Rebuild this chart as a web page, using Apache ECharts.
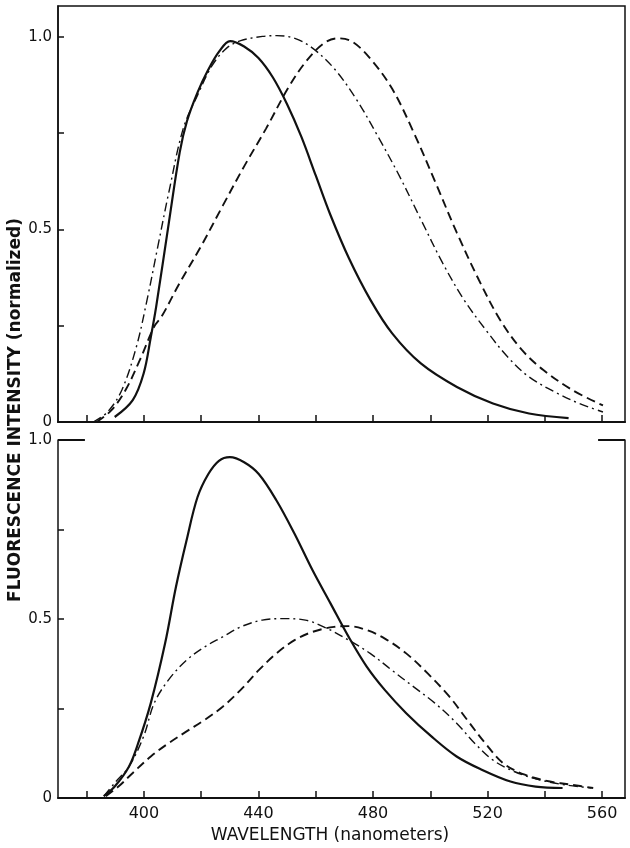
<!DOCTYPE html>
<html>
<head>
<meta charset="utf-8">
<script src="https://cdn.jsdelivr.net/npm/echarts@6/dist/echarts.min.js"></script>
<style>
html,body{margin:0;padding:0;background:#fff;}
#chart{width:630px;height:848px;}
</style>
</head>
<body>
<div id="chart"></div>
<script>
// Tick / label values
const wavelengthTicks = [380, 400, 420, 440, 460, 480, 500, 520, 540, 560];
const wavelengthLabels = [400, 440, 480, 520, 560];
const intensityTicks = [0.25, 0.5, 0.75, 1.0];
const intensityLabels = [0, 0.5, 1.0];

// Upper panel: [wavelength nm, normalized intensity]
const topSolid = [[389.8,0.013],[396.1,0.057],[399.9,0.126],[402.4,0.22],[404.3,0.30],[408.7,0.517],[412.5,0.70],[415.0,0.78],[418.7,0.855],[422.5,0.915],[426.3,0.962],[430.1,0.989],[435.0,0.975],[440.0,0.945],[445.0,0.895],[450.0,0.825],[455.0,0.74],[460.0,0.64],[465.0,0.54],[471.6,0.425],[479.1,0.317],[486.7,0.23],[496.7,0.152],[509.3,0.091],[521.9,0.048],[534.5,0.022],[548.3,0.010]];
const topDashDot = [[382.3,0.0],[387.3,0.026],[392.3,0.083],[397.4,0.196],[401.1,0.317],[404.9,0.457],[408.7,0.596],[413.7,0.761],[418.7,0.848],[423.8,0.925],[428.8,0.97],[433.8,0.99],[441.4,1.001],[446.4,1.003],[452.7,0.996],[459.0,0.97],[466.5,0.917],[474.1,0.839],[481.6,0.743],[489.2,0.639],[496.7,0.526],[504.3,0.413],[511.8,0.317],[519.4,0.239],[526.9,0.17],[534.5,0.117],[544.5,0.074],[552.1,0.048],[560.3,0.026]];
const topDashed = [[383.5,0.0],[388.6,0.03],[393.6,0.083],[398.6,0.161],[403.6,0.248],[406.2,0.274],[412.5,0.361],[420.0,0.457],[427.5,0.561],[435.1,0.665],[442.6,0.761],[450.2,0.865],[456.5,0.935],[462.8,0.983],[467.8,0.996],[472.8,0.987],[479.1,0.943],[486.7,0.865],[494.2,0.752],[501.8,0.622],[509.3,0.491],[516.9,0.37],[524.4,0.265],[532.0,0.187],[539.5,0.135],[549.6,0.083],[560.3,0.043]];

// Lower panel
const botSolid = [[386.0,0.005],[389.8,0.032],[394.8,0.088],[398.0,0.153],[402.4,0.265],[407.4,0.432],[411.2,0.59],[414.9,0.72],[418.7,0.84],[422.5,0.905],[426.2,0.942],[430.0,0.952],[435.0,0.938],[440.1,0.905],[446.3,0.831],[452.6,0.738],[458.9,0.636],[465.2,0.543],[471.5,0.45],[477.8,0.367],[484.1,0.302],[491.6,0.237],[500.4,0.172],[509.2,0.116],[518.0,0.079],[528.0,0.046],[536.8,0.032],[546.2,0.028]];
const botDashDot = [[386.0,0.005],[389.8,0.042],[394.8,0.088],[399.9,0.172],[403.6,0.265],[408.6,0.33],[414.9,0.385],[421.2,0.422],[427.5,0.45],[433.8,0.478],[441.3,0.497],[448.9,0.501],[456.4,0.497],[463.9,0.474],[471.5,0.441],[479.0,0.404],[486.6,0.357],[494.1,0.311],[501.6,0.265],[509.2,0.209],[515.5,0.153],[521.7,0.107],[529.3,0.074],[538.1,0.051],[546.9,0.037],[556.3,0.028]];
const botDashed = [[386.7,0.005],[391.1,0.032],[396.1,0.07],[402.4,0.116],[408.6,0.153],[414.9,0.186],[421.2,0.218],[427.5,0.255],[433.8,0.302],[440.1,0.357],[446.3,0.404],[452.6,0.441],[458.9,0.464],[466.4,0.478],[471.5,0.48],[477.8,0.469],[484.0,0.446],[491.6,0.404],[499.1,0.348],[506.7,0.283],[512.9,0.218],[519.2,0.153],[525.5,0.097],[533.0,0.065],[541.8,0.046],[549.4,0.037],[556.9,0.028]];

const X_MIN = 370, X_MAX = 568;
const FONT = '"DejaVu Sans", "Liberation Sans", sans-serif';
const INK = '#111';

function xAxisCfg(grid, showLabels) {
  return {
    type: 'value', gridIndex: grid, min: X_MIN, max: X_MAX,
    axisLine: { show: true, onZero: false, lineStyle: { color: INK, width: 2 } },
    axisTick: { show: true, inside: true, length: 7, customValues: wavelengthTicks, lineStyle: { color: INK, width: 1.5 } },
    axisLabel: showLabels ? { show: true, customValues: wavelengthLabels, color: INK, fontFamily: FONT, fontSize: 16, margin: 8 } : { show: false },
    splitLine: { show: false }
  };
}
function yAxisCfg(grid, max) {
  return {
    type: 'value', gridIndex: grid, min: 0, max: max,
    axisLine: { show: true, onZero: false, lineStyle: { color: INK, width: 1.5 } },
    axisTick: { show: true, inside: true, length: 6, customValues: intensityTicks, lineStyle: { color: INK, width: 1.5 } },
    axisLabel: { show: true, customValues: intensityLabels, color: INK, fontFamily: FONT, fontSize: 15, margin: 6,
      formatter: v => v === 0 ? '0' : v.toFixed(1) },
    splitLine: { show: false }
  };
}
function line(data, style, xi, yi, width) {
  const ls = { color: INK, width: width };
  if (style === 'dashed') ls.type = [9, 5];
  if (style === 'dashdot') ls.type = [9, 4, 2, 4];
  return { type: 'line', data: data, xAxisIndex: xi, yAxisIndex: yi, smooth: 0.35, showSymbol: false, symbol: 'none', lineStyle: ls, silent: true, animation: false };
}

const chart = echarts.init(document.getElementById('chart'), null, { renderer: 'canvas' });
const botSolidSeries = line(botSolid, 'solid', 1, 1, 2.2);
botSolidSeries.markLine = {
  silent: true, symbol: 'none', label: { show: false },
  lineStyle: { color: INK, width: 2, type: 'solid' },
  data: [
    [{ coord: [X_MIN, 1.0] }, { coord: [379.4, 1.0] }],
    [{ coord: [558.6, 1.0] }, { coord: [X_MAX, 1.0] }]
  ]
};
chart.setOption({
  animation: false,
  backgroundColor: '#fff',
  grid: [
    { left: 58, top: 6, width: 567, height: 416, show: true, borderColor: INK, borderWidth: 1.5, backgroundColor: 'transparent' },
    { left: 58, top: 440, width: 567, height: 358 }
  ],
  xAxis: [xAxisCfg(0, false), xAxisCfg(1, true)],
  yAxis: [
    yAxisCfg(0, 1.08),
    yAxisCfg(1, 1.0),
    { type: 'value', gridIndex: 1, position: 'right', min: 0, max: 1.0,
      axisLine: { show: true, onZero: false, lineStyle: { color: INK, width: 1.5 } },
      axisTick: { show: false }, axisLabel: { show: false }, splitLine: { show: false } }
  ],
  graphic: [
    { type: 'text', x: 330, y: 836, style: { text: 'WAVELENGTH (nanometers)', font: '17px "DejaVu Sans", sans-serif', fill: INK, align: 'center', verticalAlign: 'middle' } },
    { type: 'text', x: 16, y: 410, rotation: Math.PI / 2, style: { text: 'FLUORESCENCE INTENSITY (normalized)', font: 'bold 17px "DejaVu Sans", sans-serif', fill: INK, align: 'center', verticalAlign: 'middle' } }
  ],
  series: [
    line(topSolid, 'solid', 0, 0, 2.2),
    line(topDashed, 'dashed', 0, 0, 1.9),
    line(topDashDot, 'dashdot', 0, 0, 1.4),
    botSolidSeries,
    line(botDashed, 'dashed', 1, 1, 1.9),
    line(botDashDot, 'dashdot', 1, 1, 1.4)
  ]
});
</script>
</body>
</html>
